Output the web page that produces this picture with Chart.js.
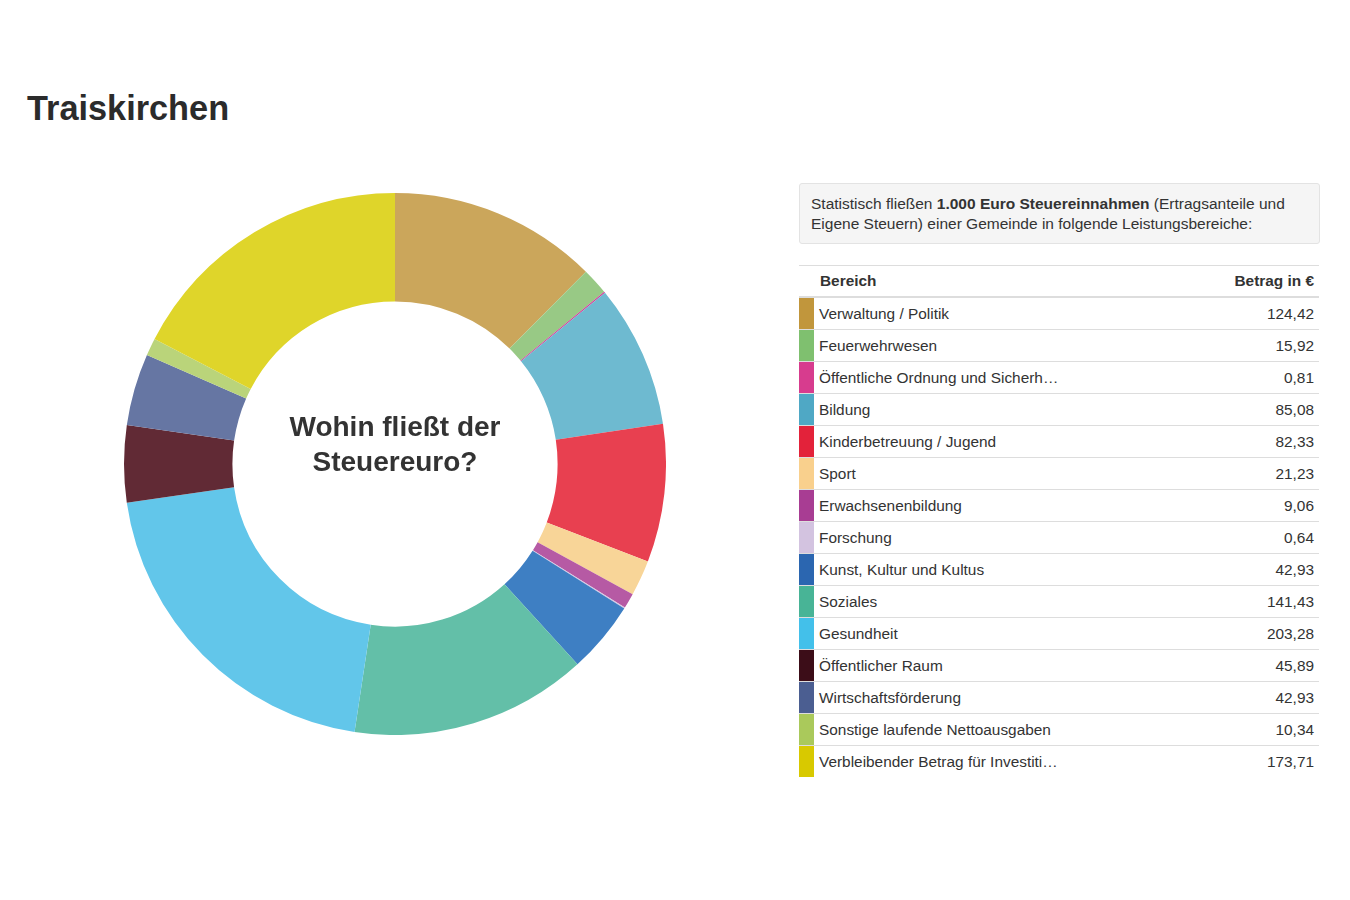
<!DOCTYPE html>
<html>
<head>
<meta charset="utf-8">
<script src="https://cdn.jsdelivr.net/npm/chart.js@4"></script>
<style>
  html, body { margin:0; padding:0; background:#fff; width:1350px; height:900px; overflow:hidden;
    font-family:"Liberation Sans", Arial, sans-serif; color:#333; }
  h1 { position:absolute; left:27px; top:86px; margin:0; font-size:34.3px; font-weight:bold; color:#2b2b2b; line-height:44px; }
  #wrap { position:absolute; left:124px; top:193px; width:542px; height:542px; }
  #info { position:absolute; left:799px; top:183px; width:497px; height:38px; padding:10px 11px 11px 11px;
    background:#f5f5f5; border:1px solid #e3e3e3; border-radius:3px; font-size:15.5px; line-height:20px; color:#333; }
  table { position:absolute; left:799px; top:265px; width:520px; border-collapse:collapse; font-size:15.4px; color:#333; }
  th { font-weight:bold; text-align:left; height:30px; padding:0 5px; border-top:1px solid #ddd; border-bottom:2px solid #ddd; }
  th.v { text-align:right; }
  td { height:31px; padding:0 5px; border-top:1px solid #ddd; }
  td.sw { padding:0; width:15px; }
  td.v { text-align:right; }
</style>
</head>
<body>
<h1>Traiskirchen</h1>
<div id="wrap"><canvas id="c" width="542" height="542"></canvas></div>
<div id="info">Statistisch fließen <b>1.000 Euro Steuereinnahmen</b> (Ertragsanteile und Eigene Steuern) einer Gemeinde in folgende Leistungsbereiche:</div>
<table id="t">
  <thead><tr><th colspan="2" style="padding-left:21px">Bereich</th><th class="v">Betrag in €</th></tr></thead>
  <tbody></tbody>
</table>
<script>
const categories = [
  "Verwaltung / Politik",
  "Feuerwehrwesen",
  "Öffentliche Ordnung und Sicherh…",
  "Bildung",
  "Kinderbetreuung / Jugend",
  "Sport",
  "Erwachsenenbildung",
  "Forschung",
  "Kunst, Kultur und Kultus",
  "Soziales",
  "Gesundheit",
  "Öffentlicher Raum",
  "Wirtschaftsförderung",
  "Sonstige laufende Nettoausgaben",
  "Verbleibender Betrag für Investiti…"
];
const amounts = [124.42, 15.92, 0.81, 85.08, 82.33, 21.23, 9.06, 0.64, 42.93, 141.43, 203.28, 45.89, 42.93, 10.34, 173.71];
const sliceColors = ["#CBA65B","#98C985","#D0449A","#6EBAD0","#E84050","#F8D598","#B65AA4","#D6C6E2","#3E7FC3","#63BFA8","#62C6EA","#612A35","#6676A3","#BAD47A","#DFD52A"];
const swatchColors = ["#C1963C","#7FC06F","#D73C8E","#4FA8C5","#E3223A","#F9D08D","#A83D93","#D3C3E0","#2B66B0","#48B496","#43C0EA","#3C0D18","#4B5E91","#AAC95B","#D8C900"];
const centerLines = ["Wohin fließt der", "Steuereuro?"];

const tbody = document.querySelector('#t tbody');
categories.forEach((c, i) => {
  const tr = document.createElement('tr');
  const sw = document.createElement('td'); sw.className = 'sw'; sw.style.background = swatchColors[i];
  const name = document.createElement('td'); name.textContent = c;
  const val = document.createElement('td'); val.className = 'v';
  val.textContent = amounts[i].toFixed(2).replace('.', ',');
  tr.append(sw, name, val); tbody.append(tr);
});

const centerText = {
  id: 'centerText',
  afterDraw(chart) {
    const ctx = chart.ctx;
    const meta = chart.getDatasetMeta(0).data[0];
    const x = meta.x, y = meta.y;
    ctx.save();
    ctx.font = 'bold 28px "Liberation Sans", Arial, sans-serif';
    ctx.fillStyle = '#333';
    ctx.textAlign = 'center';
    ctx.textBaseline = 'middle';
    ctx.fillText(centerLines[0], x, y - 36);
    ctx.fillText(centerLines[1], x, y - 1);
    ctx.restore();
  }
};

new Chart(document.getElementById('c'), {
  type: 'doughnut',
  data: {
    labels: categories,
    datasets: [{ data: amounts, backgroundColor: sliceColors, borderWidth: 0 }]
  },
  options: {
    responsive: false,
    animation: false,
    cutout: '60%',
    layout: { padding: 0 },
    plugins: { legend: { display: false }, tooltip: { enabled: false } }
  },
  plugins: [centerText]
});
</script>
</body>
</html>
